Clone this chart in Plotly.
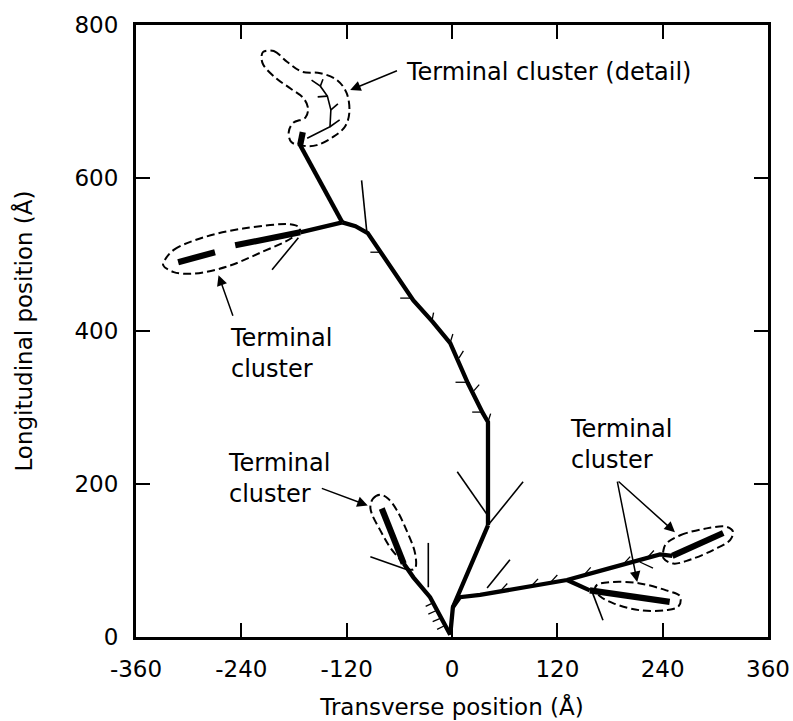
import plotly.graph_objects as go

# ---------------- data (Å) ----------------
x_ticks = [-360, -240, -120, 0, 120, 240, 360]
y_ticks = [0, 200, 400, 600, 800]

# main (thick) branches
trunk_x = [-2, 1, 41, None, 41, 41, 35, 18, -2, -22, -44, -96, -110, -125, None,
           -125, -173, None, -125, -173, None, -2, -25, -44, -55, None,
           1, 9, 32, 77, 131, 180, 237, 251, None, 131, 157]
trunk_y = [3, 39, 146, None, 146, 281, 293, 332, 384, 412, 440, 528, 537, 542, None,
           542, 643, None, 542, 529, None, 3, 52, 78, 96, None,
           39, 52, 55, 64, 74.5, 90, 108, 106, None, 74.5, 61]

# terminal (extra thick) segments
term_x = [-173, -170, None, -173, -247, None, -270, -312, None, -55, -80, None,
          251, 309, None, 157, 248]
term_y = [643, 660, None, 529, 512, None, 503, 490, None, 96, 168, None,
          106, 136, None, 61, 46]

# thin side branches
thin_x = [41, 81, None, 6, 40, None, -97, -103, None, -175, -205, None,
          -93, -51, None, -27, -27, None, 159, 172, None, 40, 66, None,
          -165, -139, -138, -142, -150, -160, None, -139, -128, None,
          -138, -130, None, -142, -153, None, -150, -147]
thin_y = [146, 203, None, 216, 160, None, 529, 597, None, 522, 480, None,
          105, 88, None, 123, 65, None, 61, 22, None, 64, 101, None,
          652, 667, 689, 707, 720, 728, None, 667, 676, None,
          689, 697, None, 707, 706, None, 720, 729]

# small hooks along the branches
hook_x = [-23, -21, None, -2, 1, None, 8, 13, None, 25, 31, None, 4, 17, None,
          23, 34, None, -59, -46, None, -93, -81, None, 41, 44, None,
          55, 63, None, 90, 98, None, 112, 120, None, 150, 158, None,
          195, 203, None, 222, 230, None, 214, 229, None,
          -8, -17, None, -12, -22, None, -17, -27, None, -21, -30]
hook_y = [412, 424, None, 385, 396, None, 365, 374, None, 322, 330, None, 333, 333, None,
          294, 294, None, 443, 443, None, 503, 503, None, 281, 292, None,
          60, 70, None, 66, 76, None, 71, 81, None, 80.5, 91, None,
          95, 105, None, 103, 113, None, 98, 90, None,
          15, 10, None, 25, 20, None, 35, 30, None, 45, 40]

# dashed enclosures of terminal clusters
enc_detail_x = [-215, -203, -188, -171, -150, -131, -120, -117, -122, -135, -154, -169,
                -183, -186, -181, -167, -164, -169, -184, -200, -215, -217, -215]
enc_detail_y = [765, 766, 752, 739, 737, 728, 711, 685, 667, 654, 643, 642,
                647, 660, 672, 679, 691, 704, 717, 730, 748, 759, 765]
enc_left_x = [-327, -317, -287, -238, -181, -173, -181, -219, -257, -295, -317, -329, -327]
enc_left_y = [493, 506, 521, 534, 539, 534, 523, 502, 484, 475, 477, 486, 493]
enc_low_x = [-93, -90, -82, -73, -63, -52, -42, -42, -48, -59, -71, -82, -91, -93]
enc_low_y = [170, 181, 186, 181, 166, 140, 109, 90, 88, 101, 118, 140, 160, 170]
enc_r1_x = [244, 260, 290, 313, 320, 317, 298, 271, 252, 241, 241, 244]
enc_r1_y = [122, 133, 142, 144, 138, 127, 114, 101, 96, 103, 114, 122]
enc_r2_x = [165, 184, 214, 244, 260, 258, 244, 214, 184, 169, 163, 165]
enc_r2_y = [68, 72, 70, 61, 53, 40, 35, 35, 44, 53, 61, 68]

# labels and arrows
label_text = ["Terminal cluster (detail)", "Terminal<br>cluster",
              "Terminal<br>cluster", "Terminal<br>cluster"]
label_x = [-55, -255, -258, 132]
label_y = [739, 371, 207, 252]
arrow_tail_x = [-61, -249, -150, 188, 188]
arrow_tail_y = [741, 418, 195, 205, 205]
arrow_head_x = [-116, -266, -96, 254, 211]
arrow_head_y = [715, 473, 172, 137, 72]

FONT = "DejaVu Sans, Liberation Sans, Arial, sans-serif"
FS = 23

fig = go.Figure()

def add_line(xs, ys, width, dash=None, shape="linear"):
    fig.add_trace(go.Scatter(x=xs, y=ys, mode="lines",
                             line=dict(color="black", width=width, dash=dash, shape=shape),
                             hoverinfo="skip", showlegend=False))

for ex, ey in [(enc_detail_x, enc_detail_y), (enc_left_x, enc_left_y),
               (enc_low_x, enc_low_y), (enc_r1_x, enc_r1_y), (enc_r2_x, enc_r2_y)]:
    add_line(ex, ey, 2.0, dash="8px,4px", shape="spline")

add_line(hook_x, hook_y, 1.3)
add_line(thin_x, thin_y, 1.6)
add_line(trunk_x, trunk_y, 4.3)
add_line(term_x, term_y, 6.2)

for t, lx, ly in zip(label_text, label_x, label_y):
    fig.add_annotation(x=lx, y=ly, text=t, showarrow=False, xanchor="left",
                       yanchor="middle", align="left",
                       font=dict(family=FONT, size=24, color="black"))

for tx, ty, hx, hy in zip(arrow_tail_x, arrow_tail_y, arrow_head_x, arrow_head_y):
    fig.add_annotation(x=hx, y=hy, ax=tx, ay=ty, xref="x", yref="y", axref="x", ayref="y",
                       text="", showarrow=True, arrowhead=2, arrowsize=1.4,
                       arrowwidth=1.5, arrowcolor="black")

axis_common = dict(showline=True, linecolor="black", linewidth=3, mirror="ticks",
                   ticks="inside", ticklen=14, tickwidth=1.5, tickcolor="black",
                   showgrid=False, zeroline=False, automargin=False,
                   tickfont=dict(family=FONT, size=FS, color="black"))

fig.update_xaxes(range=[-360, 360], tickvals=x_ticks, ticktext=[str(v) for v in x_ticks],
                 title=dict(text="Transverse position (Å)",
                            font=dict(family=FONT, size=FS, color="black"), standoff=19),
                 ticklabelstandoff=9, **axis_common)
fig.update_yaxes(range=[0, 800], tickvals=y_ticks, ticktext=[str(v) for v in y_ticks],
                 title=dict(text="Longitudinal position (Å)",
                            font=dict(family=FONT, size=23, color="black"), standoff=36),
                 ticklabelstandoff=10, **axis_common)

fig.update_layout(width=793, height=721, paper_bgcolor="white", plot_bgcolor="white",
                  margin=dict(l=136, r=25, t=25, b=84), showlegend=False)

# remove the default page margin so the figure fills the window exactly
fig.write_html("out.html", config={"displayModeBar": False},
               post_script="document.body.style.margin='0';document.body.style.overflow='hidden';")
